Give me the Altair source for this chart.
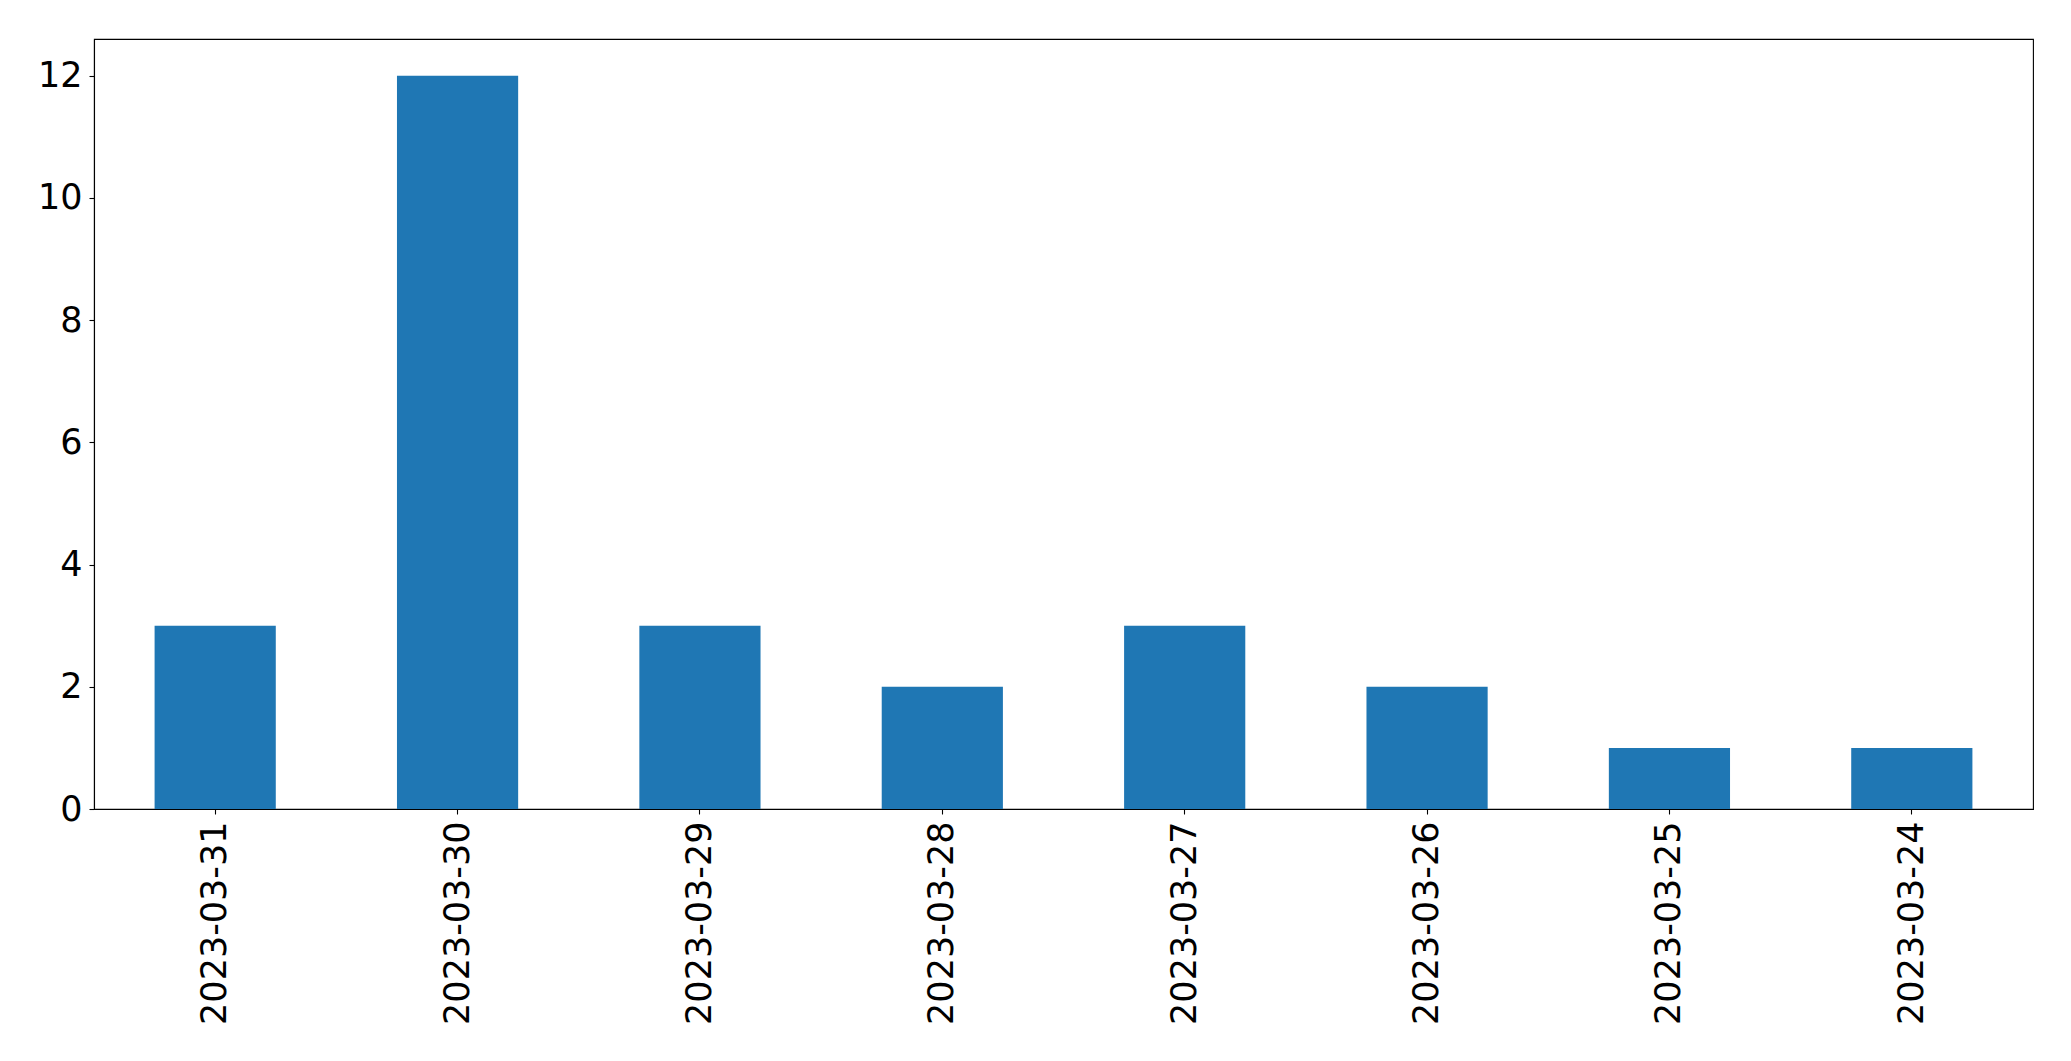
import altair as alt
import pandas as pd

dates = ["2023-03-31", "2023-03-30", "2023-03-29", "2023-03-28",
         "2023-03-27", "2023-03-26", "2023-03-25", "2023-03-24"]
counts = [3, 12, 3, 2, 3, 2, 1, 1]
y_ticks = [0, 2, 4, 6, 8, 10, 12]

df = pd.DataFrame({"date": dates, "count": counts})

chart = alt.Chart(df).mark_bar(color="#1f77b4").encode(
    x=alt.X("date:N", sort=dates, title=None,
            scale=alt.Scale(paddingInner=0.5, paddingOuter=0.25),
            axis=alt.Axis(labelAngle=270, labelAlign="right", labelBaseline="middle",
                          labelFontSize=35, labelFont="DejaVu Sans", labelColor="black",
                          labelLimit=0,
                          tickSize=5, tickColor="black", tickWidth=1.1,
                          domainColor="black", domainWidth=1.1, labelPadding=7,
                          grid=False)),
    y=alt.Y("count:Q", title=None,
            scale=alt.Scale(domain=[0, 12.6], nice=False, zero=True),
            axis=alt.Axis(values=y_ticks, labelFontSize=35, labelFont="DejaVu Sans",
                          labelColor="black", tickSize=5, tickColor="black", tickWidth=1.1,
                          domainColor="black", domainWidth=1.1, labelPadding=7,
                          grid=False)),
).properties(
    width=1939, height=770,
    autosize=alt.AutoSizeParams(type="none"),
    padding={"left": 86, "top": 31, "right": 30, "bottom": 240},
).configure_view(
    stroke="black", strokeWidth=1.1
)

chart.save("out.html", embed_options={"renderer": "svg", "actions": False})
